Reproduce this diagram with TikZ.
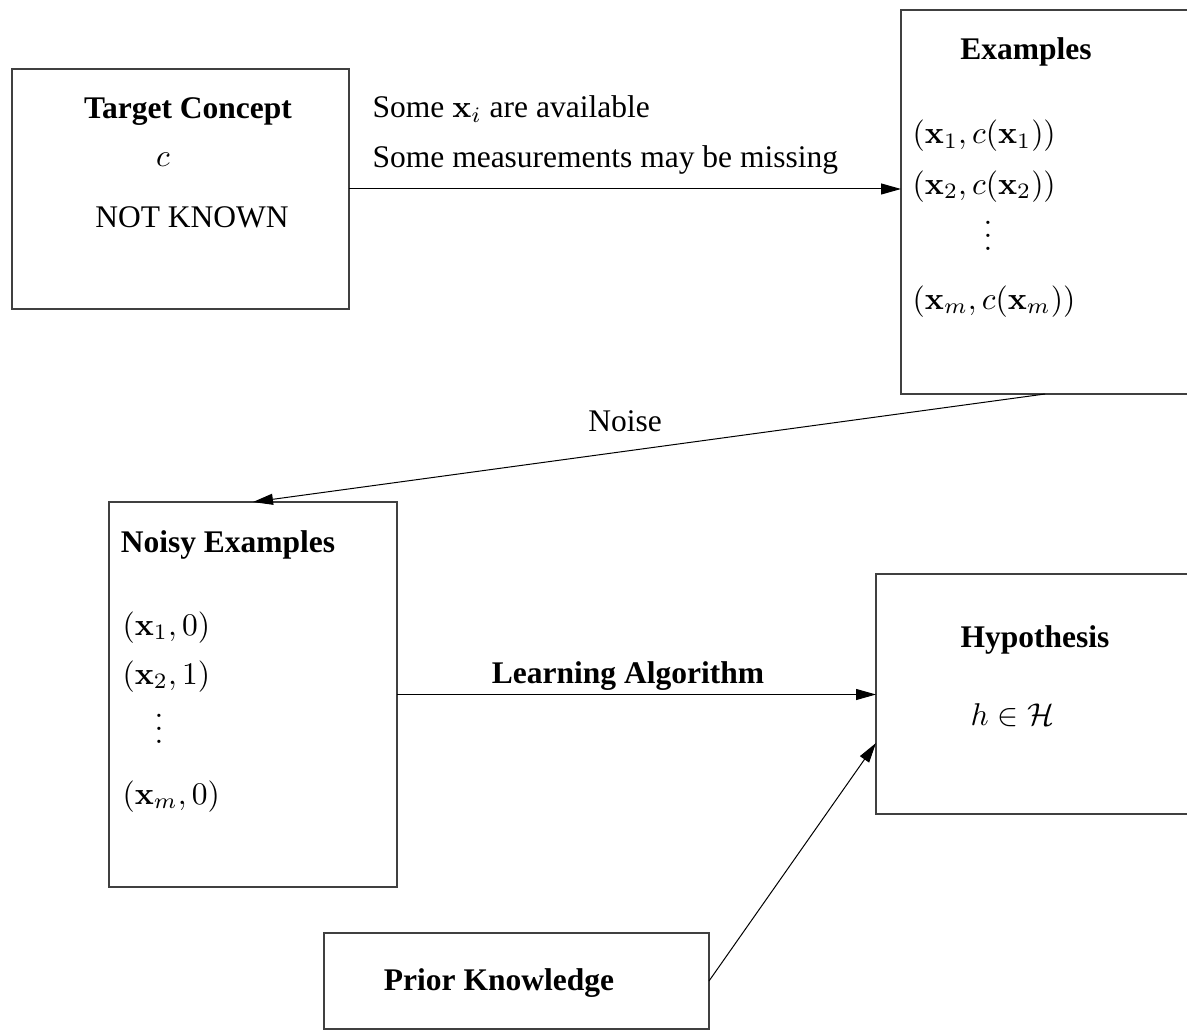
\documentclass[tikz,border=0pt]{standalone}
\usepackage[no-math]{fontspec}
\setmainfont{Liberation Serif}
\usetikzlibrary{arrows.meta,calc}
\newcommand\tightvdots{\vbox{\baselineskip4pt\lineskiplimit0pt\hbox{$.$}\hbox{$.$}\hbox{$.$}}}
\begin{document}
\begin{tikzpicture}[x=1pt,y=-1pt,
  boxline/.style={draw=black!75,line width=1.3pt},
  box/.style={boxline,inner sep=0pt,outer sep=0pt},
  openbox/.style={inner sep=0pt,outer sep=0pt},
  txt/.style={inner sep=0pt,scale=3.15},
  conn/.style={line width=1pt,-{Triangle[length=20pt,width=11pt]}}]
\useasboundingbox (0,0) rectangle (1187,1030);
% boxes (the two on the right run off the picture: drawn open on that side)
\node[box,minimum width=337pt,minimum height=240pt] (target) at (180.5,189) {};
\node[openbox,minimum width=329pt,minimum height=384pt] (examples) at (1065.5,202) {};
\node[box,minimum width=288pt,minimum height=385pt] (noisy) at (253,694.5) {};
\node[openbox,minimum width=354pt,minimum height=240pt] (hyp) at (1053,694) {};
\node[box,minimum width=385pt,minimum height=96pt] (prior) at (516.5,981) {};
\draw[boxline] (examples.north east) -- (examples.north west) -- (examples.south west) -- (examples.south east);
\draw[boxline] (hyp.north east) -- (hyp.north west) -- (hyp.south west) -- (hyp.south east);
% texts
\node[txt,anchor=base] (tc) at (188,119) {\textbf{Target Concept}};
\node[txt,anchor=base] (cc) at (163,167) {$c$};
\node[txt,anchor=base] (nk) at (192,227) {NOT KNOWN};
\node[txt,anchor=base west] (l1) at (372,118) {Some $\mathbf{x}_i$ are available};
\node[txt,anchor=base west] (l2) at (372,168) {Some measurements may be missing};
\node[txt,anchor=base] (ex) at (1026,60) {\textbf{Examples}};
\node[txt,anchor=base west] (e1) at (912,144) {$(\mathbf{x}_1, c(\mathbf{x}_1))$};
\node[txt,anchor=base west] (e2) at (912,194) {$(\mathbf{x}_2, c(\mathbf{x}_2))$};
\node[txt,anchor=base] (ed) at (988,250) {\tightvdots};
\node[txt,anchor=base west] (em) at (912,309) {$(\mathbf{x}_m, c(\mathbf{x}_m))$};
\node[txt,anchor=base] (noise) at (625,431) {Noise};
\node[txt,anchor=base] (ne) at (228,552) {\textbf{Noisy Examples}};
\node[txt,anchor=base west] (n1) at (122,635) {$(\mathbf{x}_1, 0)$};
\node[txt,anchor=base west] (n2) at (122,684) {$(\mathbf{x}_2, 1)$};
\node[txt,anchor=base] (nd) at (159,743) {\tightvdots};
\node[txt,anchor=base west] (nm) at (122,804) {$(\mathbf{x}_m, 0)$};
\node[txt,anchor=base] (la) at (628,683) {\textbf{Learning Algorithm}};
\node[txt,anchor=base] (hy) at (1035,647) {\textbf{Hypothesis}};
\node[txt,anchor=base west] (hh) at (970,725) {$h\in\mathcal{H}$};
\node[txt,anchor=base] (pk) at (499,990) {\textbf{Prior Knowledge}};
% connectors
\coordinate (exout) at ($(examples.south west)+(144,0)$);
\coordinate (hin) at ($(hyp.west)+(0,49)$);
\draw[conn] (target.east) -- (target.east -| examples.west);
\draw[conn] (exout) -- (noisy.north);
\draw[conn] (noisy.east) -- (noisy.east -| hyp.west);
\draw[conn] (prior.east) -- (hin);
\end{tikzpicture}
\end{document}
